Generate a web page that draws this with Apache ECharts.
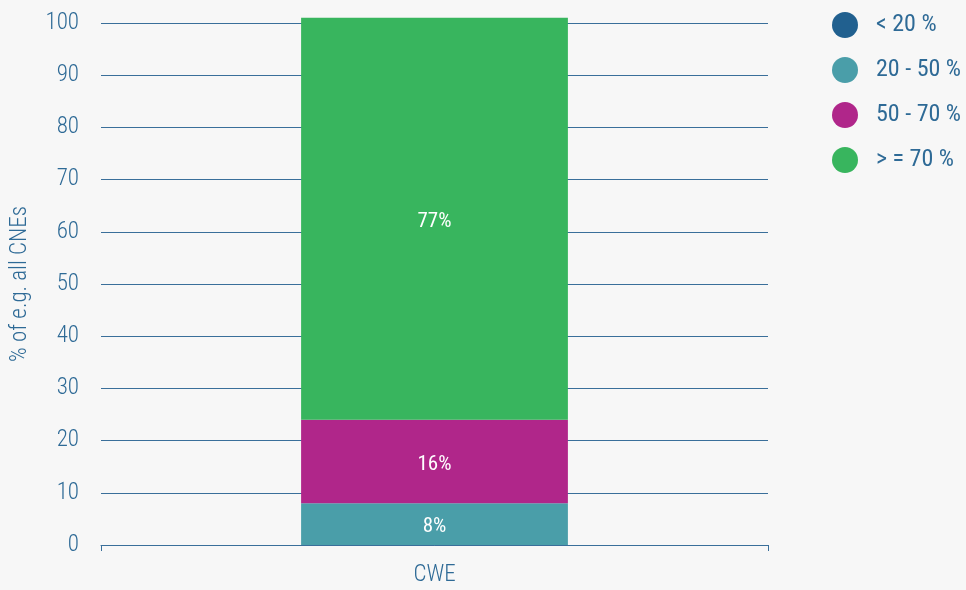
<!DOCTYPE html>
<html><head><meta charset="utf-8">
<script src="https://cdn.jsdelivr.net/npm/echarts@6/dist/echarts.min.js"></script>
<style>html,body{margin:0;padding:0;background:#f7f7f7}#c{width:966px;height:590px}</style>
</head><body><div id="c"></div>
<script>
var categories = ['CWE'];
var seriesNames = ['< 20 %', '20 - 50 %', '50 - 70 %', '> = 70 %'];
var lt20 = [0];
var s20to50 = [8];
var s50to70 = [16];
var ge70 = [77];
var yTicks = [0, 10, 20, 30, 40, 50, 60, 70, 80, 90, 100];
var colors = ['#21608f', '#4a9ea9', '#b0268a', '#38b55e'];
var FONT = '"Roboto Condensed", "Liberation Sans Narrow", Roboto, sans-serif';
var txt = '#2e6a96';
var values = [lt20, s20to50, s50to70, ge70];
var chart = echarts.init(document.getElementById('c'), null, {renderer: 'canvas'});
chart.setOption({
  backgroundColor: '#f7f7f7',
  animation: false,
  color: colors,
  grid: {left: 101, right: 198, top: 23, bottom: 45, containLabel: false, outerBoundsMode: 'none'},
  legend: {
    orient: 'vertical', left: 827, top: 7,
    icon: 'circle', itemWidth: 26, itemHeight: 26, itemGap: 19,
    textStyle: {color: txt, fontSize: 24, fontFamily: FONT, padding: [2, 0, 0, 13]},
    data: seriesNames
  },
  xAxis: {
    type: 'category', data: categories,
    axisLine: {lineStyle: {color: '#3a6f9a'}},
    axisTick: {show: true, length: 6, lineStyle: {color: '#3a6f9a'}},
    axisLabel: {color: txt, fontSize: 23, fontFamily: FONT, fontWeight: 300, margin: 19}
  },
  yAxis: {
    type: 'value', min: yTicks[0], max: yTicks[yTicks.length - 1], interval: 10,
    name: '% of e.g. all CNEs', nameLocation: 'middle', nameGap: 69, nameRotate: 90,
    nameTextStyle: {color: txt, fontSize: 23, fontFamily: FONT, fontWeight: 300},
    axisLine: {show: false}, axisTick: {show: false},
    axisLabel: {color: txt, fontSize: 23, fontFamily: FONT, fontWeight: 300, margin: 22},
    splitLine: {lineStyle: {color: '#3a6f9a', width: 1}}
  },
  series: seriesNames.map(function (n, i) {
    return {
      name: n, type: 'bar', stack: 'total', barWidth: '40%', clip: false,
      data: values[i],
      label: {
        show: true, position: 'inside', offset: [0, 3], color: '#fff', fontSize: 21, fontFamily: FONT,
        formatter: function (p) { return p.value ? p.value + '%' : ''; }
      }
    };
  })
});
</script></body></html>
